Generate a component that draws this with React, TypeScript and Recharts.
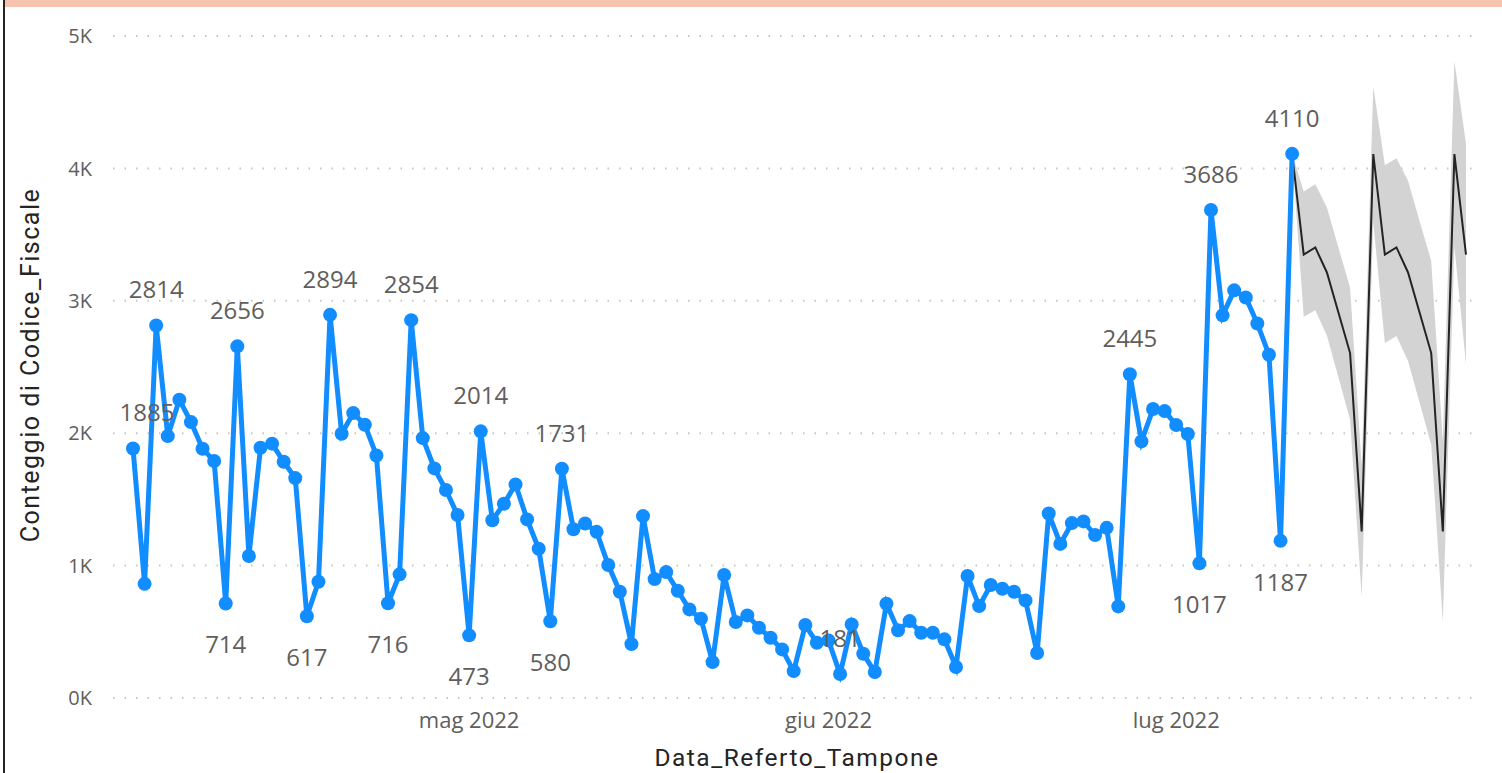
import React from "react";
import { Area, CartesianGrid, ComposedChart, Line, XAxis, YAxis } from "recharts";

// daily counts from 2 Apr 2022 to 11 Jul 2022 (one value per day)
const startDate = "2022-04-02";
const tamponi = [
    1885, 862,
    2814, 1978, 2253, 2084, 1883, 1790, 714,
    2656, 1072, 1890, 1921, 1784, 1661, 617,
    878, 2894, 1996, 2152, 2064, 1832, 716,
    934, 2854, 1963, 1734, 1571, 1382, 473,
    2014, 1342, 1467, 1613, 1349, 1127, 580,
    1731, 1275, 1318, 1255, 1004, 802, 407,
    1374, 898, 951, 810, 669, 599, 271,
    929, 574, 624, 531, 455, 367, 203,
    551, 417, 435, 181, 556, 334, 196,
    712, 511, 581, 493, 493, 443, 234,
    921, 694, 853, 825, 802, 737, 340,
    1393, 1164, 1321, 1334, 1231, 1285, 692,
    2445, 1938, 2183, 2167, 2062, 1994, 1017,
    3686, 2890, 3079, 3025, 2828, 2593, 1187,
    4110,
];

// forecast from 11 Jul to 26 Jul 2022
const forecastStart = "2022-07-11";
const previsione = [4110, 3349, 3403, 3214, 2910, 2605, 1258, 4108, 3349, 3403, 3214, 2910, 2605, 1258, 4108, 3349];
const previsioneMin = [4110, 2880, 2928, 2737, 2420, 2102, 765, 3595, 2681, 2735, 2546, 2230, 1913, 575, 3410, 2519];
const previsioneMax = [4110, 3825, 3880, 3705, 3400, 3098, 1755, 4621, 4023, 4076, 3906, 3600, 3301, 1945, 4810, 4184];

// days that show a data label
const labeledDays = [
    "2022-04-02", "2022-04-04", "2022-04-10", "2022-04-11", "2022-04-17", "2022-04-19",
    "2022-04-24", "2022-04-26", "2022-05-01", "2022-05-02", "2022-05-08", "2022-05-09",
    "2022-06-02", "2022-06-27", "2022-07-03", "2022-07-04", "2022-07-10", "2022-07-11",
];

const xTickDates = ["2022-05-01", "2022-06-01", "2022-07-01"];
const xTickLabels = ["mag 2022", "giu 2022", "lug 2022"];
const yTicks = [0, 1000, 2000, 3000, 4000, 5000];

const toDay = (s: string) => {
    const [y, m, d] = s.split("-").map(Number);
    return Date.UTC(y, m - 1, d) / 86400000;
};

const labeledSet = new Set(labeledDays.map(toDay));
const xTicks = xTickDates.map(toDay);

const rowsByDay = new Map<number, any>();
const getRow = (day: number) => {
    if (!rowsByDay.has(day)) rowsByDay.set(day, { day });
    return rowsByDay.get(day);
};
tamponi.forEach((v, i) => {
    const row = getRow(toDay(startDate) + i);
    row.actual = v;
    row.idx = i;
});
previsione.forEach((v, i) => {
    const row = getRow(toDay(forecastStart) + i);
    row.fc = v;
    row.band = [previsioneMin[i], previsioneMax[i]];
});
const rows = Array.from(rowsByDay.values()).sort((a, b) => a.day - b.day);

const PLOT_LEFT = 113;
const SANS = "'Segoe UI', 'Open Sans', sans-serif";
const TITLE_FONT = "Roboto, 'DejaVu Sans', sans-serif";

// a dip (lower than both neighbours) gets its label underneath
const isDip = (i: number) => {
    const v = tamponi[i];
    const prev = i > 0 ? tamponi[i - 1] : Infinity;
    const next = i < tamponi.length - 1 ? tamponi[i + 1] : Infinity;
    return v < prev && v < next;
};

const renderLabel = (props: any) => {
    const { x, y, value, index } = props;
    const row = rows[index];
    if (value == null || !row || !labeledSet.has(row.day)) return null;
    const below = isDip(row.idx) && value > 300;
    return (
        <text
            key={`lbl-${index}`}
            x={Math.max(x, PLOT_LEFT + 34)}
            y={below ? y + 50 : y - 27}
            textAnchor="middle"
            fill="#605E5C"
            fontSize={24}
            fontFamily={SANS}
        >
            {value}
        </text>
    );
};

const XTitle = ({ viewBox }: any) => (
    <text
        x={viewBox.x + viewBox.width / 2}
        y={viewBox.y + 68}
        textAnchor="middle"
        fill="#252423"
        fontSize={24.5}
        letterSpacing={1.5}
        fontFamily={TITLE_FONT}
    >
        Data_Referto_Tampone
    </text>
);

const YTitle = ({ viewBox }: any) => {
    const cx = 39;
    const cy = viewBox.y + viewBox.height / 2 - 2;
    return (
        <text
            x={cx}
            y={cy}
            transform={`rotate(-90, ${cx}, ${cy})`}
            textAnchor="middle"
            fill="#252423"
            fontSize={25}
            letterSpacing={1.5}
            fontFamily={TITLE_FONT}
        >
            Conteggio di Codice_Fiscale
        </text>
    );
};

const App = () => {
    return (
        <div style={{ position: "absolute", left: 0, top: 0, width: 1502, height: 773, background: "#fff", overflow: "hidden" }}>
            <div style={{ position: "absolute", left: 5, top: 0, width: 1497, height: 7, background: "#F6C4AE" }} />
            <div style={{ position: "absolute", left: 3, top: 0, width: 2, height: 773, background: "#252423" }} />
            <ComposedChart
                width={1502}
                height={773}
                data={rows}
                margin={{ top: 36, right: 21, bottom: 0, left: 53 }}
                style={{ position: "absolute", left: 0, top: 0 }}
            >
                <CartesianGrid vertical={false} stroke="#C8C6C4" strokeWidth={2} strokeDasharray="1.5 10" />
                <XAxis
                    type="number"
                    dataKey="day"
                    domain={["dataMin", "dataMax"]}
                    ticks={xTicks}
                    tickFormatter={(d: number) => xTickLabels[xTicks.indexOf(d)] ?? ""}
                    padding={{ left: 20, right: 15 }}
                    height={75}
                    axisLine={false}
                    tickLine={false}
                    tickSize={0}
                    tickMargin={14}
                    tick={{ fill: "#605E5C", fontSize: 22, fontFamily: SANS }}
                    label={{ content: XTitle }}
                />
                <YAxis
                    domain={[0, 5000]}
                    ticks={yTicks}
                    width={60}
                    axisLine={false}
                    tickLine={false}
                    tickSize={0}
                    tickMargin={21}
                    tickFormatter={(v: number) => `${v / 1000}K`}
                    tick={{ fill: "#605E5C", fontSize: 20, fontFamily: SANS }}
                    label={{ content: YTitle }}
                />
                <Area dataKey="band" stroke="none" fill="#D3D3D3" fillOpacity={1} isAnimationActive={false} />
                <Line dataKey="fc" stroke="#252423" strokeWidth={2} dot={false} isAnimationActive={false} />
                <Line
                    dataKey="actual"
                    stroke="#118DFF"
                    strokeWidth={5}
                    dot={{ r: 7, fill: "#118DFF", stroke: "#118DFF", strokeWidth: 0 }}
                    activeDot={false}
                    label={renderLabel}
                    isAnimationActive={false}
                />
            </ComposedChart>
        </div>
    );
};

export default App;
